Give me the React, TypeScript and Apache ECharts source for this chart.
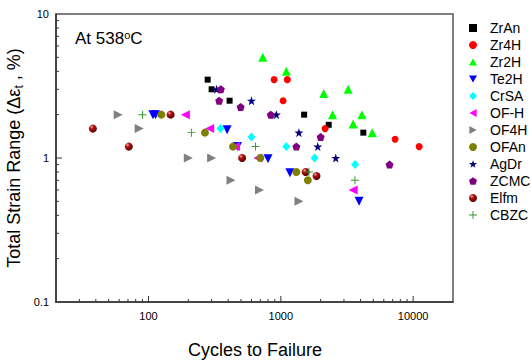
import React, { useEffect, useRef } from "react";
import * as echarts from "echarts";

const FONT = "'Liberation Sans', Arial, Helvetica, sans-serif";

// Series data: [cycles to failure, total strain range %]
const ZrAn: [number, number][] = [[280, 3.5], [300, 3.0], [410, 2.5], [1500, 2.0], [2300, 1.7], [4200, 1.5]];
const Zr4H: [number, number][] = [[890, 3.5], [1120, 3.5], [1040, 2.5], [2160, 1.6], [7300, 1.35], [11100, 1.2]];
const Zr2H: [number, number][] = [[730, 5.0], [1100, 4.0], [2110, 2.8], [3230, 3.0], [2460, 2.0], [4100, 2.0], [3520, 1.72], [4900, 1.5]];
const Te2H: [number, number][] = [[108, 2.0], [113, 2.0], [393, 1.57], [470, 1.2], [800, 0.99], [1170, 0.79], [3900, 0.5]];
const CrSA: [number, number][] = [[350, 1.6], [600, 1.4], [1100, 1.2], [1800, 1.0], [3640, 0.9]];
const OFH: [number, number][] = [[190, 2.0], [290, 1.6], [455, 1.2], [670, 1.0], [3520, 0.6]];
const OF4H: [number, number][] = [[59, 2.0], [85, 1.6], [200, 1.0], [300, 1.0], [420, 0.7], [690, 0.6], [1370, 0.5]];
const OFAn: [number, number][] = [[125, 2.0], [267, 1.5], [435, 1.2], [700, 1.0], [1310, 0.8], [1600, 0.7]];
const AgDr: [number, number][] = [[327, 3.0], [600, 2.5], [925, 2.0], [1370, 1.5], [1900, 1.2], [2600, 1.0]];
const ZCMC: [number, number][] = [[352, 3.0], [342, 2.5], [497, 2.26], [840, 2.0], [1310, 1.2], [2000, 1.4], [6630, 0.9]];
const Elfm: [number, number][] = [[38, 1.6], [71, 1.2], [147, 2.0], [510, 1.0], [1540, 0.8], [1860, 0.75]];
const CBZC: [number, number][] = [[90, 2.0], [211, 1.5], [644, 1.2], [1630, 0.8], [3630, 0.7]];

// Axis ticks
const xLabels = [100, 1000, 10000];
const xMinorTicks = [30, 40, 50, 60, 70, 80, 90, 200, 300, 400, 500, 600, 700, 800, 900, 2000, 3000, 4000, 5000, 6000, 7000, 8000, 9000];
const yLabels = [0.1, 1, 10];
const yMajorTicks = [1];
const yMinorTicks = [0.2, 0.3, 0.4, 0.5, 0.6, 0.7, 0.8, 0.9, 2, 3, 4, 5, 6, 7, 8, 9];

const X_MIN = 20;
const X_MAX = 20000;
const Y_MIN = 0.1;
const Y_MAX = 10;

const STAR = "path://M50,0 L61.8,35.3 L97.6,35.3 L68.6,57.1 L79.4,91.5 L50,70.7 L20.6,91.5 L31.4,57.1 L2.4,35.3 L38.2,35.3 Z";
const PENTAGON = "path://M50,0 L97.6,34.5 L79.4,90.5 L20.6,90.5 L2.4,34.5 Z";
const PLUS = "path://M4.4,0 H5.6 V4.4 H10 V5.6 H5.6 V10 H4.4 V5.6 H0 V4.4 H4.4 Z";
const TRI_UP = "path://M5,0 L10,9 L0,9 Z";
const TRI_DOWN = "path://M0,0 L10,0 L5,9 Z";
const TRI_LEFT = "path://M9,0 L9,10 L0,5 Z";
const TRI_RIGHT = "path://M0,0 L9,5 L0,10 Z";

const sphere = new echarts.graphic.RadialGradient(0.35, 0.3, 0.7, [
  { offset: 0, color: "#f0b0b0" },
  { offset: 0.35, color: "#b01010" },
  { offset: 1, color: "#5a0000" },
]);

type Def = { name: string; data: [number, number][]; symbol: string; size: number | number[]; color: any };

const defs: Def[] = [
  { name: "ZrAn", data: ZrAn, symbol: "rect", size: 6, color: "#000000" },
  { name: "Zr4H", data: Zr4H, symbol: "circle", size: 7, color: "#ff0000" },
  { name: "Zr2H", data: Zr2H, symbol: TRI_UP, size: 9, color: "#00ff00" },
  { name: "Te2H", data: Te2H, symbol: TRI_DOWN, size: 9, color: "#0000ff" },
  { name: "CrSA", data: CrSA, symbol: "diamond", size: [8, 9], color: "#00ffff" },
  { name: "OF-H", data: OFH, symbol: TRI_LEFT, size: 9, color: "#ff00ff" },
  { name: "OF4H", data: OF4H, symbol: TRI_RIGHT, size: 9, color: "#808080" },
  { name: "OFAn", data: OFAn, symbol: "circle", size: 8, color: "#808000" },
  { name: "AgDr", data: AgDr, symbol: STAR, size: 9, color: "#000080" },
  { name: "ZCMC", data: ZCMC, symbol: PENTAGON, size: 8, color: "#800080" },
  { name: "Elfm", data: Elfm, symbol: "circle", size: 8, color: sphere },
  { name: "CBZC", data: CBZC, symbol: PLUS, size: 8, color: "#339933" },
];

const tickRender = (horizontal: boolean) => (params: any, api: any) => {
  const p = api.coord([api.value(0), api.value(1)]);
  const len = api.value(2) ? 6 : 3;
  const shape = horizontal
    ? { x1: p[0], y1: p[1], x2: p[0] + len, y2: p[1] }
    : { x1: p[0], y1: p[1], x2: p[0], y2: p[1] - len };
  return { type: "line", shape, style: { stroke: "#333", lineWidth: 1 } };
};

export default function App() {
  const ref = useRef<HTMLDivElement>(null);
  useEffect(() => {
    if (!ref.current) return;
    const chart = echarts.init(ref.current, undefined, { renderer: "svg" });
    const xTickData = [
      ...xLabels.map((v) => [v, Y_MIN, 1]),
      ...xMinorTicks.map((v) => [v, Y_MIN, 0]),
    ];
    const yTickData = [
      ...yMajorTicks.map((v) => [X_MIN, v, 1]),
      ...yMinorTicks.map((v) => [X_MIN, v, 0]),
    ];
    chart.setOption({
      animation: false,
      textStyle: { fontFamily: FONT },
      grid: { left: 56, top: 14, right: 78, bottom: 58, show: true, borderColor: "#555", borderWidth: 1.5, containLabel: false },
      xAxis: {
        type: "log",
        min: X_MIN,
        max: X_MAX,
        logBase: 10,
        axisLine: { show: true, lineStyle: { color: "#333", width: 1.5 } },
        axisTick: { show: false },
        splitLine: { show: false },
        minorTick: { show: false },
        axisLabel: {
          color: "#000",
          fontSize: 11,
          fontFamily: FONT,
          margin: 8,
          showMinLabel: false,
          showMaxLabel: false,
          formatter: (v: number) => {
            const m = xLabels.find((l) => Math.abs(l - v) / l < 1e-6);
            return m ? String(m) : "";
          },
        },
      },
      yAxis: {
        type: "log",
        min: Y_MIN,
        max: Y_MAX,
        logBase: 10,
        axisLine: { show: true, lineStyle: { color: "#333", width: 1.5 } },
        axisTick: { show: false },
        splitLine: { show: false },
        axisLabel: {
          color: "#000",
          fontSize: 11,
          fontFamily: FONT,
          margin: 7,
          formatter: (v: number) => {
            const m = yLabels.find((l) => Math.abs(l - v) / l < 1e-6);
            return m !== undefined ? String(m) : "";
          },
        },
      },
      legend: {
        orient: "vertical",
        left: 464,
        top: 16,
        itemWidth: 8,
        itemHeight: 8,
        itemGap: 3,
        data: defs.map((d) => d.name),
        textStyle: { fontSize: 14, color: "#000", fontFamily: FONT, padding: [0, 0, 0, 8] },
      },
      graphic: [
        {
          type: "text",
          left: 75,
          top: 29,
          style: {
            text: "{a|At 538}{s|o}{a|C}",
            rich: {
              a: { fontSize: 17, fontFamily: FONT, fill: "#000", lineHeight: 18, verticalAlign: "bottom" },
              s: { fontSize: 11, fontFamily: FONT, fill: "#000", lineHeight: 18, verticalAlign: "top" },
            },
          },
        },
        {
          type: "text",
          x: 14,
          y: 158,
          rotation: Math.PI / 2,
          style: {
            text: "{a|Total Strain Range (Δε}{s|t}{a| , %)}",
            align: "center",
            verticalAlign: "middle",
            rich: {
              a: { fontSize: 18, fontFamily: FONT, fill: "#000", lineHeight: 22, verticalAlign: "middle" },
              s: { fontSize: 12, fontFamily: FONT, fill: "#000", lineHeight: 22, verticalAlign: "bottom" },
            },
          },
        },
        {
          type: "text",
          x: 255,
          y: 350,
          style: {
            text: "Cycles to Failure",
            align: "center",
            verticalAlign: "middle",
            fontSize: 18,
            fontFamily: FONT,
            fill: "#000",
          },
        },
      ],
      series: [
        ...defs.map((d) => ({
          name: d.name,
          type: "scatter",
          data: d.data,
          symbol: d.symbol,
          symbolSize: d.size,
          itemStyle: { color: d.color, opacity: 1 },
          emphasis: { disabled: true },
        })),
        {
          name: "xticks",
          type: "custom",
          renderItem: tickRender(false),
          data: xTickData,
          silent: true,
          clip: false,
          z: 5,
        },
        {
          name: "yticks",
          type: "custom",
          renderItem: tickRender(true),
          data: yTickData,
          silent: true,
          clip: false,
          z: 5,
        },
      ],
    });
    return () => chart.dispose();
  }, []);
  return <div ref={ref} style={{ width: 531, height: 360, position: "absolute", left: 0, top: 0 }} />;
}
